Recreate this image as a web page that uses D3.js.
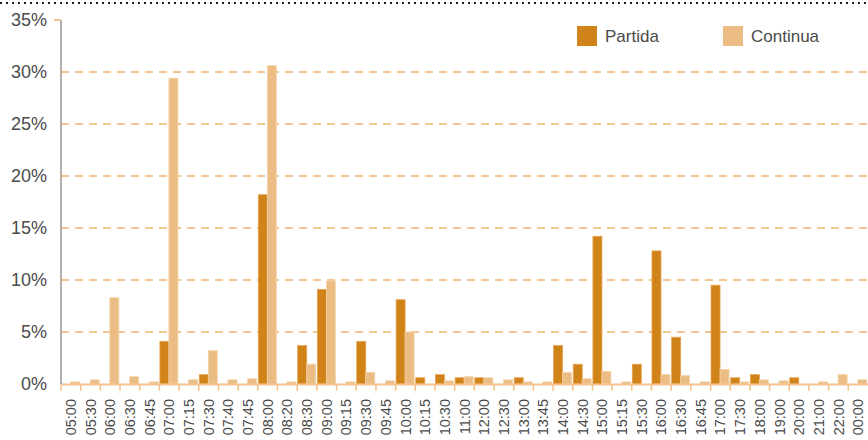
<!DOCTYPE html>
<html lang="es">
<head>
  <meta charset="UTF-8">
  <script src="https://d3js.org/d3.v7.min.js"></script>
  <style>
    body { margin: 0; background: #fff; }
    svg { display: block; font-family: "Liberation Sans", Arial, sans-serif; }
  </style>
</head>
<body>
  <svg width="868" height="440"></svg>
  <script>
    // horas de salida
    const hours = ["05:00","05:30","06:00","06:30","06:45","07:00","07:15","07:30","07:40","07:45",
      "08:00","08:20","08:30","09:00","09:15","09:30","09:45","10:00","10:15","10:30",
      "11:00","12:00","12:30","13:00","13:45","14:00","14:30","15:00","15:15","15:30",
      "16:00","16:30","16:45","17:00","17:30","18:00","19:00","20:00","21:00","22:00","00:00"];

    // % jornada partida
    const partida = [0,0,0,0,0,4.1,0,0.9,0,0,
      18.2,0,3.7,9.1,0,4.1,0,8.1,0.6,0.9,
      0.6,0.6,0,0.6,0,3.7,1.9,14.2,0,1.9,
      12.8,4.5,0,9.5,0.6,0.9,0,0.6,0,0,0];

    // % jornada continua
    const continua = [0.2,0.4,8.3,0.7,0.2,29.4,0.4,3.2,0.4,0.5,
      30.6,0.2,1.9,9.9,0.2,1.1,0.3,5.0,0,0.3,
      0.7,0.6,0.4,0.2,0.2,1.1,0.5,1.2,0.2,0,
      0.9,0.8,0.2,1.4,0.2,0.4,0.3,0,0.2,0.9,0.4];

    const yTicks = [0,5,10,15,20,25,30,35];
    const seriesNames = ["Partida","Continua"];
    const colors = ["#d08318","#ebbd84"];

    const svg = d3.select("svg");

    const x = d3.scaleBand().domain(hours).range([61, 868]);
    const xSub = d3.scaleBand().domain(seriesNames).range([0.5, 18.5]);
    const y = d3.scaleLinear().domain([0, 35]).range([384, 20]);

    // linea punteada superior
    svg.append("line")
      .attr("x1", 0).attr("x2", 868).attr("y1", 3).attr("y2", 3)
      .attr("stroke", "#222").attr("stroke-width", 2)
      .attr("stroke-dasharray", "2,4");

    // cuadricula
    svg.append("g")
      .selectAll("line")
      .data(yTicks.filter(d => d > 0 && d < 35))
      .join("line")
      .attr("x1", 61).attr("x2", 868)
      .attr("y1", d => y(d)).attr("y2", d => y(d))
      .attr("stroke", "#f2c690").attr("stroke-width", 2)
      .attr("stroke-dasharray", "8,6");

    // eje y
    const yAxis = d3.axisLeft(y)
      .tickValues(yTicks)
      .tickSize(0)
      .tickPadding(14)
      .tickFormat(d => d + "%");

    const yG = svg.append("g").attr("transform", "translate(61,0)").call(yAxis);
    yG.select(".domain").remove();
    yG.selectAll("text").attr("font-size", 18).attr("fill", "#4a4a4a");

    // barras
    const rows = hours.map((h, i) => ({ hour: h, values: [partida[i], continua[i]] }));
    svg.append("g")
      .selectAll("g")
      .data(rows)
      .join("g")
      .attr("transform", d => `translate(${x(d.hour)},0)`)
      .selectAll("rect")
      .data(d => d.values.map((v, j) => ({ key: seriesNames[j], value: v, j })))
      .join("rect")
      .attr("x", d => xSub(d.key))
      .attr("width", xSub.bandwidth())
      .attr("y", d => y(d.value))
      .attr("height", d => y(0) - y(d.value))
      .attr("fill", d => colors[d.j])
      .attr("stroke", d => d.j === 0 ? "#e6a24e" : "#f3d2a8")
      .attr("stroke-width", 0.8);

    // eje x
    const xAxis = d3.axisBottom(x).tickSize(0).tickPadding(8);
    const xG = svg.append("g").attr("transform", "translate(0,384)").call(xAxis);
    xG.select(".domain").attr("stroke", "#f0c48c").attr("stroke-width", 2);
    xG.selectAll("text")
      .attr("font-size", 14.5)
      .attr("fill", "#4a4a4a")
      .attr("text-anchor", "end")
      .attr("dy", "0.35em")
      .attr("transform", "translate(0,15) rotate(-90)")
      .attr("x", 0).attr("y", 0);

    // marcas entre categorias
    svg.append("g")
      .selectAll("line")
      .data(hours)
      .join("line")
      .attr("x1", d => x(d)).attr("x2", d => x(d))
      .attr("y1", 384).attr("y2", 391)
      .attr("stroke", "#f0c48c").attr("stroke-width", 1.5);

    // linea del eje y
    svg.append("line")
      .attr("x1", 61).attr("x2", 61).attr("y1", 20).attr("y2", 384)
      .attr("stroke", "#9a9590").attr("stroke-width", 1.5);
    svg.append("line")
      .attr("x1", 54).attr("x2", 61).attr("y1", 20).attr("y2", 20)
      .attr("stroke", "#eab47a").attr("stroke-width", 1.5);

    // leyenda
    const legend = svg.append("g")
      .selectAll("g")
      .data(seriesNames)
      .join("g")
      .attr("transform", (d, i) => `translate(${577 + i * 146},26)`);
    legend.append("rect")
      .attr("width", 20).attr("height", 20)
      .attr("fill", (d, i) => colors[i]);
    legend.append("text")
      .attr("x", 28).attr("y", 16)
      .attr("font-size", 17).attr("fill", "#4a4a4a")
      .text(d => d);
  </script>
</body>
</html>
